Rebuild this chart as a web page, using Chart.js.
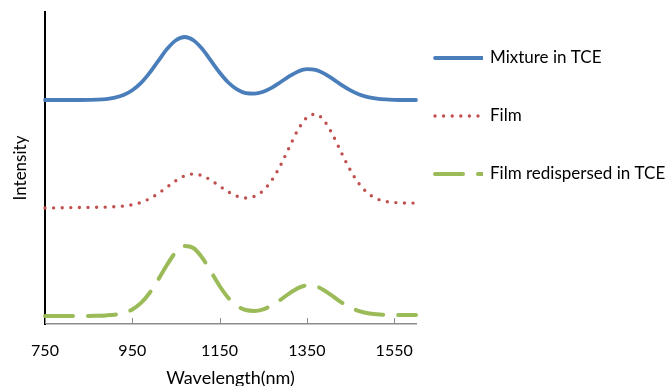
<!DOCTYPE html>
<html>
<head>
<meta charset="utf-8">
<script src="https://cdn.jsdelivr.net/npm/chart.js@4"></script>
<style>
  html, body { margin: 0; padding: 0; background: #fff; }
  #wrap { width: 670px; height: 386px; position: relative; }
</style>
</head>
<body>
<div id="wrap"><canvas id="c" width="670" height="386"></canvas></div>
<script>
const wavelengths = [750,770,790,810,830,850,870,890,910,930,950,970,990,1010,1030,1050,1070,1090,1110,1130,1150,1170,1190,1210,1230,1250,1270,1290,1310,1330,1350,1370,1390,1410,1430,1450,1470,1490,1510,1530,1550,1570,1590,1600];
const mixtureInTCE = [2.24,2.24,2.24,2.24,2.24,2.241,2.243,2.249,2.263,2.289,2.337,2.411,2.514,2.634,2.752,2.838,2.87,2.838,2.752,2.634,2.515,2.415,2.346,2.309,2.304,2.323,2.364,2.42,2.478,2.526,2.549,2.541,2.504,2.449,2.389,2.336,2.295,2.269,2.254,2.246,2.242,2.24,2.24,2.24];
const film = [1.16,1.161,1.162,1.164,1.165,1.166,1.167,1.169,1.173,1.18,1.193,1.216,1.254,1.307,1.37,1.434,1.482,1.5,1.484,1.438,1.379,1.321,1.278,1.26,1.277,1.334,1.44,1.59,1.77,1.945,2.065,2.098,2.03,1.885,1.705,1.535,1.4,1.307,1.253,1.226,1.215,1.211,1.209,1.21];
const filmRedispersed = [0.08,0.08,0.08,0.081,0.081,0.081,0.083,0.086,0.093,0.109,0.146,0.211,0.313,0.448,0.595,0.72,0.781,0.76,0.664,0.525,0.38,0.261,0.181,0.14,0.131,0.147,0.187,0.244,0.307,0.359,0.386,0.378,0.336,0.276,0.214,0.164,0.128,0.107,0.097,0.092,0.091,0.09,0.09,0.09];
const seriesNames = ['Mixture in TCE', 'Film', 'Film redispersed in TCE'];
const xTickLabels = [750, 950, 1150, 1350, 1550];
const xTitle = 'Wavelength(nm)';
const yTitle = 'Intensity';

const FONT = 'Lato, "Liberation Sans", sans-serif';

function pts(ys) { return wavelengths.map((x, i) => ({x: x, y: ys[i]})); }

const legendPlugin = {
  id: 'sideLegend',
  afterDraw(chart) {
    const ctx = chart.ctx;
    const rows = [58, 116, 174];
    chart.data.datasets.forEach((ds, i) => {
      const y = rows[i];
      ctx.save();
      ctx.beginPath();
      ctx.rect(430, y - 10, 53, 20);
      ctx.clip();
      ctx.strokeStyle = ds.borderColor;
      ctx.lineWidth = ds.borderWidth;
      ctx.lineCap = ds.borderCapStyle || 'butt';
      ctx.setLineDash(ds.borderDash || []);
      ctx.beginPath();
      ctx.moveTo(435, y);
      ctx.lineTo(484, y);
      ctx.stroke();
      ctx.restore();
      ctx.save();
      ctx.fillStyle = '#000';
      ctx.font = '17px ' + FONT;
      ctx.textBaseline = 'middle';
      ctx.textAlign = 'left';
      ctx.fillText(ds.label, 490, y);
      ctx.restore();
    });
  }
};

const innerTicks = {
  id: 'innerTicks',
  beforeDatasetsDraw(chart) {
    const xs = chart.scales.x;
    const ctx = chart.ctx;
    const b = chart.chartArea.bottom;
    ctx.save();
    ctx.strokeStyle = '#8c8c8c';
    ctx.lineWidth = 1;
    xs.ticks.forEach((t) => {
      const px = Math.round(xs.getPixelForValue(t.value)) + 0.5;
      ctx.beginPath();
      ctx.moveTo(px, b - 6);
      ctx.lineTo(px, b);
      ctx.stroke();
    });
    ctx.restore();
  }
};

new Chart(document.getElementById('c'), {
  type: 'line',
  data: {
    datasets: [
      { label: seriesNames[0], data: pts(mixtureInTCE), borderColor: '#4a7ebb', borderWidth: 3.8, borderCapStyle: 'round', pointRadius: 0, fill: false, cubicInterpolationMode: 'monotone' },
      { label: seriesNames[1], data: pts(film), borderColor: '#c0504d', borderWidth: 3.4, borderDash: [0, 8.6], borderCapStyle: 'round', pointRadius: 0, fill: false, cubicInterpolationMode: 'monotone' },
      { label: seriesNames[2], data: pts(filmRedispersed), borderColor: '#9bbb59', borderWidth: 4, borderDash: [28, 15], borderCapStyle: 'round', pointRadius: 0, fill: false, cubicInterpolationMode: 'monotone' }
    ]
  },
  options: {
    responsive: false,
    animation: false,
    clip: false,
    layout: { padding: { top: 12, right: 254, bottom: 0, left: 0 } },
    plugins: { legend: { display: false }, tooltip: { enabled: false } },
    scales: {
      x: {
        type: 'linear',
        min: 750,
        max: 1600,
        afterBuildTicks: (s) => { s.ticks = xTickLabels.map(v => ({ value: v })); },
        afterFit: (s) => { s.height = 62; },
        grid: { display: false, drawTicks: false },
        border: { display: true, color: '#8c8c8c', width: 1.5 },
        ticks: { color: '#000', padding: 17, autoSkip: false, maxRotation: 0, font: { family: FONT, size: 16 }, callback: (v) => String(v) },
        title: { display: true, text: xTitle, color: '#000', font: { family: FONT, size: 18, lineHeight: 1.0 }, padding: { top: 0, bottom: -1 } }
      },
      y: {
        min: 0,
        max: 3.12,
        afterFit: (s) => { s.width = 45; },
        grid: { display: false, drawTicks: false },
        border: { display: true, color: '#000', width: 2 },
        ticks: { display: false },
        title: { display: true, text: yTitle, color: '#000', font: { family: FONT, size: 17 }, padding: { top: 10, bottom: 10 } }
      }
    }
  },
  plugins: [innerTicks, legendPlugin]
});
</script>
</body>
</html>
